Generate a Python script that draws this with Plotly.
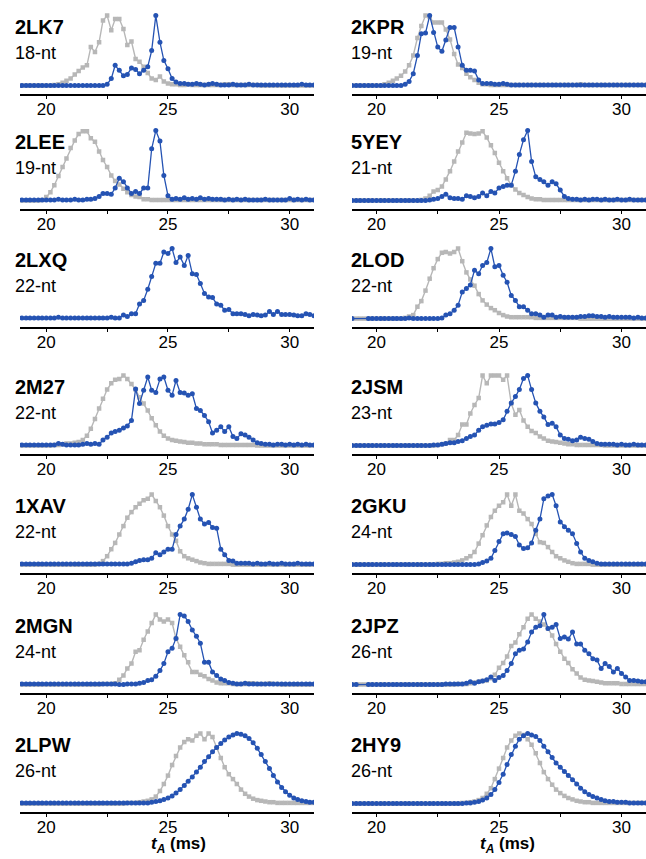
import plotly.graph_objects as go

# sampling times (ms)
T = [19.0, 19.17, 19.33, 19.5, 19.67, 19.83,
     20.0, 20.17, 20.33, 20.5, 20.67, 20.83,
     21.0, 21.17, 21.33, 21.5, 21.67, 21.83,
     22.0, 22.17, 22.33, 22.5, 22.67, 22.83,
     23.0, 23.17, 23.33, 23.5, 23.67, 23.83,
     24.0, 24.17, 24.33, 24.5, 24.67, 24.83,
     25.0, 25.17, 25.33, 25.5, 25.67, 25.83,
     26.0, 26.17, 26.33, 26.5, 26.67, 26.83,
     27.0, 27.17, 27.33, 27.5, 27.67, 27.83,
     28.0, 28.17, 28.33, 28.5, 28.67, 28.83,
     29.0, 29.17, 29.33, 29.5, 29.67, 29.83,
     30.0, 30.17, 30.33, 30.5, 30.67, 30.83,
     31.0]

N = None

NAMES = ["2LK7", "2KPR", "2LEE", "5YEY", "2LXQ", "2LOD", "2M27",
         "2JSM", "1XAV", "2GKU", "2MGN", "2JPZ", "2LPW", "2HY9"]
LENGTHS = ["18-nt", "19-nt", "19-nt", "21-nt", "22-nt", "22-nt", "22-nt",
           "23-nt", "22-nt", "24-nt", "24-nt", "26-nt", "26-nt", "26-nt"]

# intensities in percent of max
gray_2LK7 = [0,0,0,0,0,0, 0,0,1,2,4,7, 10,16,21,26,29,55, 48,62,93,100,79,95,
             95,81,58,63,38,34, 27,18,10,8,13,6, 3,2,2,1,1,2, 1,1,1,1,1,1,
             1,1,2,2,1,1, 1,1,1,1,1,0, 0,0,0,0,0,0, 0,0,0,0,0,0, 0]
blue_2LK7 = [0,0,0,0,0,0, 0,0,0,0,0,0, 0,0,0,0,0,0, 0,0,0,2,10,29,
             22,14,16,25,23,17, 22,27,50,100,62,36, 24,10,5,3,3,2, 2,3,2,1,2,3,
             2,1,1,1,2,1, 1,1,2,1,1,1, 1,1,1,1,1,1, 1,1,1,2,1,1, 1]

gray_2KPR = [0,0,0,0,0,0, 0,0,2,4,7,10, 14,20,29,43,68,85, 100,98,90,90,90,80,
             66,45,30,25,17,12, 8,4,2,2,1,1, 1,1,1,1,1,1, 1,1,1,1,1,1,
             1,1,1,1,1,1, 1,1,2,1,1,1, 1,1,1,1,1,1, 1,1,1,1,1,1, 1]
blue_2KPR = [0,0,0,0,0,0, 0,0,0,0,0,0, 0,2,6,17,43,74, 75,100,76,55,49,65,
             83,83,55,29,22,22, 21,8,3,3,3,2, 2,3,2,1,1,1, 1,1,1,1,1,1,
             1,1,1,1,1,1, 1,1,1,1,1,1, 1,1,1,1,1,1, 1,1,1,1,1,1, 1]

gray_2LEE = [0,0,0,0,0,1, 5,12,22,35,48,60, 75,86,95,99,99,89, 84,70,58,48,36,28,
             23,17,12,8,6,5, 2,2,1,1,1,1, 1,1,1,1,1,1, 1,1,1,1,1,1,
             1,1,1,1,1,1, 1,1,1,1,1,1, 1,1,1,1,1,1, 1,1,1,1,1,1, 1]
blue_2LEE = [1,1,1,1,1,1, 1,1,1,2,1,1, 1,2,1,1,2,2, 3,6,10,10,9,18,
             32,27,18,10,13,10, 18,18,74,100,85,36, 7,2,3,2,4,2, 3,2,4,2,3,2,
             2,2,1,2,1,2, 1,2,1,1,1,1, 2,1,1,1,1,1, 3,1,2,1,2,1, 1]

gray_5YEY = [0,0,0,0,0,0, 0,0,0,0,0,0, 0,0,0,0,0,1, 3,7,13,15,20,30,
             42,56,70,83,97,96, 95,96,99,90,79,68, 54,42,32,22,16,11, 8,5,3,2,2,1,
             1,1,1,1,1,1, 1,1,1,1,1,1, 1,1,1,1,1,1, 1,1,1,1,1,1, 1]
blue_5YEY = [0,0,0,0,0,0, 0,0,0,0,0,0, 0,0,0,0,0,0, 0,1,2,3,6,9,
             4,3,3,2,7,6, 4,6,11,7,13,11, 18,20,22,22,42,66, 87,100,56,34,30,27,
             22,27,24,15,6,3, 2,2,1,2,1,2, 2,1,2,1,1,2, 1,1,2,1,1,1, 1]

gray_2LXQ = []
blue_2LXQ = [1,1,1,1,1,1, 1,1,1,2,1,1, 1,1,1,1,1,1, 1,1,1,1,2,1,
             1,5,3,7,7,21, 26,42,60,79,79,95, 93,100,80,88,76,90, 64,63,50,36,31,30,
             21,19,12,13,7,7, 7,6,4,6,5,4, 5,10,6,10,6,6, 6,5,4,4,7,6, 4]

gray_2LOD = [0,0,0,0,0,0, 0,0,0,0,0,0, 0,1,3,5,17,25, 40,57,72,85,94,95,
             93,95,100,82,66,56, 47,35,26,20,15,12, 8,5,3,2,2,2, 2,2,2,1,1,1,
             1,1,1,1,1,1, 1,1,0,0,0,0, 0,0,0,0,0,0, 0,0,0,0,0,0, 0]
blue_2LOD = [0,N,N,N,0,0, 0,0,0,0,0,0, 0,0,1,0,0,0, 0,0,0,0,1,5,
             7,12,19,38,43,48, 69,64,76,80,100,74, 76,62,52,33,26,17, 17,12,7,7,5,2,
             5,5,2,3,2,2, 2,2,3,3,4,4, 3,3,2,3,2,2, 2,2,2,1,2,1, 1]

gray_2M27 = [0,0,0,0,0,0, 0,0,1,1,2,3, 3,4,5,8,14,24, 38,53,67,80,89,94,
             95,100,95,88,80,69, 60,50,39,29,20,14, 10,8,7,6,5,4, 4,3,3,2,2,2,
             2,1,1,1,1,1, 1,1,1,1,0,0, 0,0,0,0,0,0, 0,0,0,0,0,0, 0]
blue_2M27 = [1,1,1,1,1,1, 1,1,1,3,2,1, 1,1,1,2,3,2, 3,2,8,12,18,20,
             22,25,28,36,81,60, 79,98,79,76,95,98, 79,72,93,76,75,72, 74,53,50,43,34,18,
             22,27,20,27,13,10, 17,15,12,8,4,3, 2,2,1,2,2,1, 2,1,2,1,2,1, 1]

gray_2JSM = [0,0,0,0,0,0, 0,0,0,0,0,0, 0,0,0,0,0,0, 0,0,0,1,2,3,
             8,8,15,30,30,46, 58,68,100,89,100,100, 100,94,100,60,44,51, 36,27,21,18,13,10,
             7,6,5,4,3,2, 2,1,1,1,1,1, 1,1,0,0,0,0, 0,0,0,0,0,0, 0]
blue_2JSM = [0,0,0,0,0,0, 0,0,0,0,0,0, 0,0,0,0,0,0, 0,0,1,1,2,3,
             4,4,6,7,10,13, 15,22,27,29,31,31, 33,37,49,61,70,80, 96,100,80,61,49,41,
             30,32,27,15,10,9, 7,8,12,10,9,6, 3,2,2,2,2,1, 2,1,1,2,1,1, 1]

gray_1XAV = [0,0,0,0,0,0, 0,0,0,0,0,0, 0,0,0,0,0,0, 0,1,5,12,22,31,
             43,55,67,75,82,87, 92,94,100,91,82,70, 55,43,34,19,12,9, 7,5,3,2,1,1,
             1,1,1,1,0,0, 0,0,0,0,0,0, 0,0,0,0,0,0, 0,0,0,0,0,0, 0]
blue_1XAV = [1,1,1,1,1,1, 1,1,1,1,1,1, 1,1,1,1,1,1, 1,1,1,1,1,1,
             1,1,1,2,4,6, 7,7,9,17,14,18, 22,22,43,55,65,79, 100,82,65,58,60,53,
             52,22,14,6,5,2, 2,2,2,1,2,1, 1,2,1,1,2,1, 1,1,2,1,1,1, 1]

gray_2GKU = [0,0,0,0,0,0, 0,0,0,0,0,0, 0,0,0,0,0,0, 0,0,0,1,1,2,
             2,3,4,6,9,12, 18,30,42,56,68,77, 84,89,100,84,100,77, 73,65,58,44,32,31,
             25,18,12,9,6,4, 2,1,1,1,1,0, 0,0,0,0,0,0, 0,0,0,0,0,0, 0]
blue_2GKU = [0,0,0,0,0,0, 0,0,0,0,0,0, 0,0,0,0,0,0, 0,0,0,0,0,0,
             0,0,0,0,0,0, 0,1,3,5,9,20, 33,44,45,43,40,28, 23,24,31,49,65,94,
             98,100,84,61,54,49, 44,30,18,9,6,4, 2,1,1,1,1,1, 1,1,1,1,1,1, 1]

gray_2MGN = [0,0,0,0,0,0, 0,0,0,0,0,0, 0,0,0,0,0,0, 0,0,1,1,1,2,
             7,13,23,30,47,49, 64,76,88,100,93,90, 93,88,66,54,42,32, 18,18,14,12,8,6,
             3,2,2,2,1,1, 1,1,2,2,1,1, 1,2,1,1,0,0, 0,0,0,0,0,0, 0]
blue_2MGN = [1,1,1,1,1,1, 1,1,1,1,1,1, 1,1,1,1,1,1, 1,1,1,1,1,1,
             0,0,1,1,1,2, 3,6,7,12,20,30, 47,52,66,100,98,90, 78,69,59,32,32,18,
             13,8,6,3,2,1, 1,2,1,1,1,1, 1,1,1,1,1,1, 1,1,1,1,1,1, 1]

gray_2JPZ = [0,0,0,0,0,0, 0,0,0,0,0,0, 0,0,0,0,0,0, 0,0,0,0,0,0,
             0,0,1,1,1,2, 3,4,5,6,9,14, 24,31,40,55,60,72, 82,94,100,94,90,86,
             80,70,58,47,37,31, 22,16,10,7,6,5, 4,3,2,2,2,2, 1,1,1,1,1,1, 1]
blue_2JPZ = [0,0,N,N,0,0, 0,0,0,0,0,0, 0,0,0,0,0,0, 0,0,0,0,0,1,
             1,1,1,1,2,4, 2,4,5,7,11,6, 10,13,20,30,44,49, 51,61,75,82,84,100,
             80,82,86,66,68,65, 75,58,58,49,44,37, 35,23,30,26,18,23, 16,11,6,6,5,4, 4]

gray_2LPW = [0,0,0,0,0,0, 0,0,0,0,0,0, 0,0,0,0,0,0, 0,0,0,0,0,0,
             0,0,1,1,1,2, 3,4,6,10,18,28, 40,55,68,80,88,92, 90,97,100,92,100,95,
             80,65,52,42,35,28, 20,14,10,7,5,4, 3,2,2,1,1,1, 1,1,1,1,1,1, 1]
blue_2LPW = [1,1,1,1,1,1, 1,1,1,1,1,1, 1,1,1,1,1,1, 1,1,1,1,1,1,
             1,1,1,1,1,1, 1,1,2,3,4,6, 8,11,15,20,26,32, 38,45,52,60,67,74,
             80,86,91,95,98,100, 99,97,93,87,79,70, 60,50,40,31,23,17, 12,8,6,4,3,2, 2]

gray_2HY9 = [0,0,0,0,0,0, 0,0,0,0,0,0, 0,0,0,0,0,0, 0,0,0,0,0,0,
             0,0,0,1,1,2, 3,5,8,14,22,35, 50,65,80,90,97,100, 98,92,84,72,58,45,
             35,27,20,15,11,8, 6,4,3,2,2,1, 1,1,1,1,1,1, 1,1,1,1,1,1, 1]
blue_2HY9 = [0,0,0,0,0,0, 0,0,0,0,0,0, 0,0,0,0,0,0, 0,0,0,0,0,0,
             0,0,0,0,1,1, 2,3,5,8,13,20, 30,42,56,70,82,92, 97,100,98,96,90,82,
             74,66,58,52,46,40, 34,28,22,17,13,10, 8,6,4,3,3,2, 2,2,1,1,1,1, 1]

GRAYS = [gray_2LK7, gray_2KPR, gray_2LEE, gray_5YEY, gray_2LXQ, gray_2LOD, gray_2M27,
         gray_2JSM, gray_1XAV, gray_2GKU, gray_2MGN, gray_2JPZ, gray_2LPW, gray_2HY9]
BLUES = [blue_2LK7, blue_2KPR, blue_2LEE, blue_5YEY, blue_2LXQ, blue_2LOD, blue_2M27,
         blue_2JSM, blue_1XAV, blue_2GKU, blue_2MGN, blue_2JPZ, blue_2LPW, blue_2HY9]

X_TICKS = [20, 22.5, 25, 27.5, 30]
X_TICKTEXT = ["20", "", "25", "", "30"]

# ---------- layout geometry (pixels) ----------
W, H = 646, 859
AXIS_PX = [94, 209, 327, 454, 573, 693, 812]   # x-axis line of each row
COL_DOM = [(20, 314), (352, 646)]
COL_RANGE = [(18.92, 31.0), (19.0, 31.0)]
TITLE_X = [13, 349]
Y_LO, Y_HI = -12, 106
PX_PER_UNIT = 0.70

GRAY_C = "#b7b7b7"
BLUE_C = "#2553b3"
FONT = "Liberation Sans, Arial, Helvetica, sans-serif"

fig = go.Figure()
annotations = []
layout = {}

for k in range(14):
    r, c = divmod(k, 2)
    idx = k + 1
    xa = "x" if idx == 1 else f"x{idx}"
    ya = "y" if idx == 1 else f"y{idx}"
    a = AXIS_PX[r]
    y0 = 1 - a / H
    y1 = y0 + (Y_HI - Y_LO) * PX_PER_UNIT / H
    x0, x1 = COL_DOM[c][0] / W, COL_DOM[c][1] / W

    g = GRAYS[k]
    if g:
        fig.add_trace(go.Scatter(
            x=T, y=g, xaxis=xa, yaxis=ya, mode="lines+markers",
            line=dict(color=GRAY_C, width=1.4),
            marker=dict(symbol="square", size=4.5, color=GRAY_C),
            connectgaps=True, showlegend=False, hoverinfo="skip"))
    fig.add_trace(go.Scatter(
        x=T, y=BLUES[k], xaxis=xa, yaxis=ya, mode="lines+markers",
        line=dict(color=BLUE_C, width=1.3),
        marker=dict(symbol="circle", size=5, color=BLUE_C),
        connectgaps=True, showlegend=False, hoverinfo="skip"))

    xkey = "xaxis" if idx == 1 else f"xaxis{idx}"
    ykey = "yaxis" if idx == 1 else f"yaxis{idx}"
    layout[xkey] = dict(
        domain=[x0, min(x1, 1.0)], anchor=ya, range=list(COL_RANGE[c]),
        showgrid=False, zeroline=False, showline=True, linecolor="black",
        linewidth=1.6, ticks="outside", ticklen=3, tickwidth=1.2, tickcolor="black",
        tickvals=X_TICKS, ticktext=X_TICKTEXT, ticklabelstandoff=-4,
        tickfont=dict(family=FONT, size=17, color="black"), fixedrange=True)
    layout[ykey] = dict(domain=[y0, y1], anchor=xa, range=[Y_LO, Y_HI],
                        visible=False, fixedrange=True)

    annotations.append(dict(
        x=TITLE_X[c] / W, y=1 - (a - 67) / H, xref="paper", yref="paper",
        xanchor="left", yanchor="middle", showarrow=False,
        text=f"<b>{NAMES[k]}</b>", font=dict(family=FONT, size=20, color="black")))
    annotations.append(dict(
        x=TITLE_X[c] / W, y=1 - (a - 41) / H, xref="paper", yref="paper",
        xanchor="left", yanchor="middle", showarrow=False,
        text=LENGTHS[k], font=dict(family=FONT, size=18, color="black")))

for cx in (178, 507):
    annotations.append(dict(
        x=cx / W, y=1 - 845 / H, xref="paper", yref="paper",
        xanchor="center", yanchor="middle", showarrow=False,
        text="<b><i>t</i><sub><i>A</i></sub> (ms)</b>",
        font=dict(family=FONT, size=17, color="black")))

fig.update_layout(
    width=W, height=H, margin=dict(l=0, r=0, t=0, b=0),
    paper_bgcolor="white", plot_bgcolor="white",
    annotations=annotations, **layout)

fig.write_html("out.html", config={"displayModeBar": False},
               post_script="document.body.style.margin='0px';"
                           "document.body.style.padding='0px';")
